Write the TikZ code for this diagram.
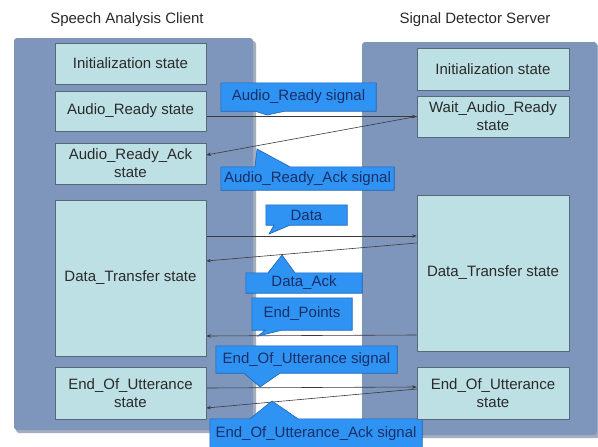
\documentclass[tikz,border=0pt]{standalone}
\usepackage{fontspec}
\setmainfont{Liberation Sans}
\usetikzlibrary{arrows.meta,calc}
\pgfdeclarelayer{back}
\pgfdeclarelayer{mid}
\pgfsetlayers{back,mid,main}
\definecolor{panelc}{HTML}{7F96BC}
\definecolor{shadowc}{HTML}{A4AEBE}
\definecolor{boxc}{HTML}{BCE0E4}
\definecolor{boxline}{HTML}{56687A}
\definecolor{txt}{HTML}{2A2A2A}
\definecolor{ctxt}{HTML}{1A2F66}
\definecolor{callc}{HTML}{2F93F3}
\definecolor{callline}{HTML}{1E63B5}
\definecolor{linec}{HTML}{3A3A3A}
\newcommand\diagfont{\fontsize{15}{18}\selectfont}
\begin{document}
\begin{tikzpicture}[x=1pt,y=-1pt,
  box/.style={draw=boxline, fill=boxc, line width=0.7pt, minimum width=151pt, inner sep=2pt, align=center, text=txt, font=\diagfont},
  ctext/.style={inner sep=0pt, text=ctxt, font=\diagfont},
  callshape/.style={fill=callc, draw=callline, line width=0.6pt, line join=miter},
  sig/.style={draw=linec, line width=0.6pt, -{Stealth[length=4.5pt,width=3.5pt]}},
  ttl/.style={text=txt, font=\diagfont}]
\useasboundingbox (0,0) rectangle (598,447);
\begin{pgfonlayer}{back}
\fill[white] (0,0) rectangle (598,447);
\fill[shadowc, rounded corners=3pt] (16,41) rectangle (256,433);
\fill[panelc, rounded corners=3pt] (14,38) rectangle (253,430);
\fill[shadowc, rounded corners=3pt] (364,45) rectangle (600,438);
\fill[panelc, rounded corners=3pt] (362,42) rectangle (597,435);
\end{pgfonlayer}
% titles
\node[ttl] (tc) at (127,20) {Speech Analysis Client};
\node[ttl] (ts) at (475,20) {Signal Detector Server};
% client states
\node[box, minimum height=41pt] (initL) at (130.5,63.5) {Initialization state};
\node[box, minimum height=40pt] (arL) at (130.5,111) {Audio\_Ready state};
\node[box, minimum height=41pt] (ackL) at (130.5,163.5) {Audio\_Ready\_Ack\\state};
\node[box, minimum height=156pt] (dtL) at (130.5,278) {Data\_Transfer state};
\node[box, minimum height=52pt] (eouL) at (130.5,393) {End\_Of\_Utterance\\state};
% server states
\node[box, minimum width=152pt, minimum height=42pt] (initR) at (493,69) {Initialization state};
\node[box, minimum width=152pt, minimum height=41pt] (waitR) at (493,116.5) {Wait\_Audio\_Ready\\state};
\node[box, minimum width=152pt, minimum height=156pt] (dtR) at (493,273) {Data\_Transfer state};
\node[box, minimum width=152pt, minimum height=52pt] (eouR) at (493,393) {End\_Of\_Utterance\\state};
% callout texts
\node[ctext, minimum width=155pt, minimum height=28pt] (car) at (298.5,97) {Audio\_Ready signal};
\node[ctext, minimum width=173pt, minimum height=23pt] (cack) at (307.5,178.5) {Audio\_Ready\_Ack signal};
\node[ctext, minimum width=81pt, minimum height=20pt] (cdata) at (306.5,215) {Data};
\node[ctext, minimum width=116pt, minimum height=20pt] (cdack) at (304,283) {Data\_Ack};
\node[ctext, minimum width=100pt, minimum height=32pt] (cep) at (302,314) {End\_Points};
\node[ctext, minimum width=181pt, minimum height=27pt] (ceou) at (306.5,359.5) {End\_Of\_Utterance signal};
\node[ctext, minimum width=212pt, minimum height=30pt] (ceack) at (316,434) {End\_Of\_Utterance\_Ack signal};
\begin{pgfonlayer}{mid}
% signals
\draw[sig] (arL.east |- waitR.west) -- (waitR.west);
\draw[sig] (waitR.west) -- (ackL.east |- 0,155);
\draw[sig] (dtL.east |- 0,236) -- (dtR.west |- 0,236);
\draw[sig] (dtR.west |- 0,243) -- (dtL.east |- 0,261);
\draw[sig] (dtR.west |- 0,335) -- (dtL.east |- 0,336);
\draw[sig] (eouL.east |- 0,388) -- (eouR.west |- 0,387);
\draw[sig] (eouR.west |- 0,389) -- (eouL.east |- 0,408);
% callout shapes
\draw[callshape] (car.north west) -- (car.north east) -- (car.south east) -- (car.south -| 285,0) -- (267,115) -- (car.south -| 255,0) -- (car.south west) -- cycle;
\draw[callshape] (cack.north west) -- (cack.north -| 255,0) -- (257,149) -- (cack.north -| 290,0) -- (cack.north east) -- (cack.south east) -- (cack.south west) -- cycle;
\draw[callshape] (cdata.north west) -- (cdata.north east) -- (cdata.south east) -- (cdata.south -| 290,0) -- (269,234) -- (cdata.south -| 274,0) -- (cdata.south west) -- cycle;
\draw[callshape] (cdack.north west) -- (cdack.north -| 268,0) -- (282,255) -- (cdack.north -| 295,0) -- (cdack.north east) -- (cdack.south east) -- (cdack.south west) -- cycle;
\draw[callshape] (cep.north west) -- (cep.north east) -- (cep.south east) -- (cep.south -| 282,0) -- (258,336) -- (cep.south -| 265,0) -- (cep.south west) -- cycle;
\draw[callshape] (ceou.north west) -- (ceou.north east) -- (ceou.south east) -- (ceou.south -| 280,0) -- (260,387) -- (ceou.south -| 244,0) -- (ceou.south west) -- cycle;
\draw[callshape] (ceack.north west) -- (ceack.north -| 250,0) -- (272,401) -- (ceack.north -| 298,0) -- (ceack.north east) -- (ceack.south east) -- (ceack.south west) -- cycle;
\end{pgfonlayer}
\end{tikzpicture}
\end{document}
